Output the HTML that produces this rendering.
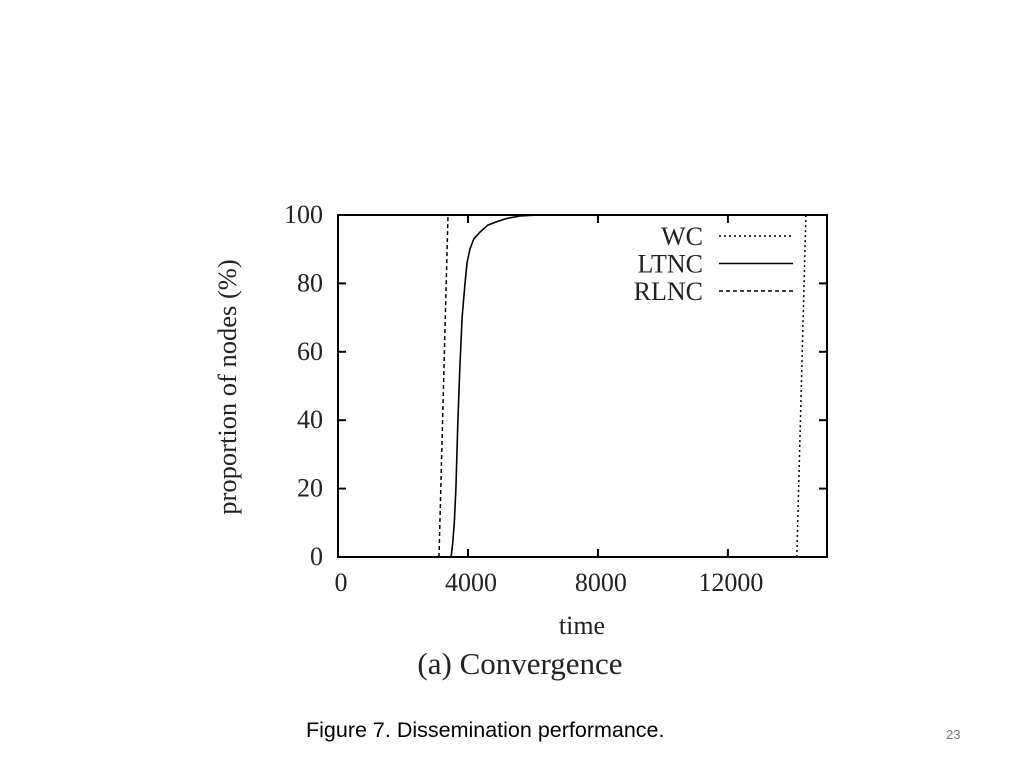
<!DOCTYPE html>
<html><head><meta charset="utf-8"><style>
body{margin:0;background:#fff;width:1024px;height:768px;overflow:hidden;position:relative}
svg{position:absolute;left:0;top:0}
</style></head><body>
<svg width="1024" height="768" font-family="Liberation Serif, serif">
<g id="plot"></g>
<text x="306" y="737" font-family="Liberation Sans, sans-serif" font-size="21.5" fill="#000">Figure 7. Dissemination performance.</text>
<text x="946" y="739" font-family="Liberation Sans, sans-serif" font-size="13" fill="#777">23</text>
</svg>
<script>
const xTicks=[0,4000,8000,12000];
const yTicks=[0,20,40,60,80,100];
const wcX=[14120,14400];
const wcY=[0,100];
const ltncX=[3480,3530,3580,3630,3690,3750,3820,3908,3970,4060,4180,4370,4600,4880,5200,5600,6200,15000];
const ltncY=[0,4,10,20,40,55,70,80,86,90,93,95,97,98,99,99.7,100,100];
const rlncX=[3108,3385];
const rlncY=[0,100];
const seriesNames=["WC","LTNC","RLNC"];

const L=338,R=827,T=215,B=557,XMAX=15050;
const sx=v=>L+v/XMAX*(R-L);
const sy=v=>B-v/100*(B-T);
const ns="http://www.w3.org/2000/svg";
const g=document.getElementById('plot');
function mk(tag,attrs,name){const e=document.createElementNS(ns,tag);for(const k in attrs)e.setAttribute(k,attrs[k]);


g.appendChild(e);return e;}
mk('rect',{x:L,y:T,width:R-L,height:B-T,fill:'none',stroke:'#000','stroke-width':2},'plot-frame');
xTicks.forEach(v=>{
  mk('line',{x1:sx(v),x2:sx(v),y1:B,y2:B-8,stroke:'#000','stroke-width':2},'x-tick');
  mk('line',{x1:sx(v),x2:sx(v),y1:T,y2:T+8,stroke:'#000','stroke-width':2},'x-tick-top');
  const t=mk('text',{x:sx(v)+3,y:B+34,'text-anchor':'middle','font-size':26,fill:'#222'},'x-tick-label');t.textContent=v;
});
yTicks.forEach(v=>{
  mk('line',{x1:L,x2:L+8,y1:sy(v),y2:sy(v),stroke:'#000','stroke-width':2},'y-tick');
  mk('line',{x1:R,x2:R-8,y1:sy(v),y2:sy(v),stroke:'#000','stroke-width':2},'y-tick-right');
  const t=mk('text',{x:L-15,y:sy(v)+8,'text-anchor':'end','font-size':26,fill:'#222'},'y-tick-label');t.textContent=v;
});
let t=mk('text',{x:582,y:634,'text-anchor':'middle','font-size':26,fill:'#222'},'x-axis-title');t.textContent='time';
t=mk('text',{x:0,y:0,'text-anchor':'middle','font-size':26.5,fill:'#222',transform:'translate(236,387) rotate(-90)'},'y-axis-title');t.textContent='proportion of nodes (%)';
t=mk('text',{x:520,y:674,'text-anchor':'middle','font-size':31,fill:'#222'},'chart-caption');t.textContent='(a) Convergence';
function line(xs,ys,dash,w,name){
  const d=xs.map((x,i)=>(i?'L':'M')+sx(x).toFixed(1)+','+sy(ys[i]).toFixed(1)).join(' ');
  const a={d:d,fill:'none',stroke:'#000','stroke-width':w,'stroke-linejoin':'round'};if(dash)a['stroke-dasharray']=dash;
  mk('path',a,name);
}
line(wcX,wcY,'2,3',1.5,'wc-line');
line(ltncX,ltncY,null,1.6,'ltnc-line');
line(rlncX,rlncY,'4,3',1.5,'rlnc-line');
const dashes=['2,3',null,'4,3'];
seriesNames.forEach((n,i)=>{
  const y=236+i*27.5;
  const tx=mk('text',{x:703,y:y+9,'text-anchor':'end','font-size':26,fill:'#222'},'legend-label');tx.textContent=n;
  const a={x1:719,x2:793,y1:y,y2:y,stroke:'#000','stroke-width':1.5};if(dashes[i])a['stroke-dasharray']=dashes[i];
  mk('line',a,'legend-swatch');
});
</script>
</body></html>
